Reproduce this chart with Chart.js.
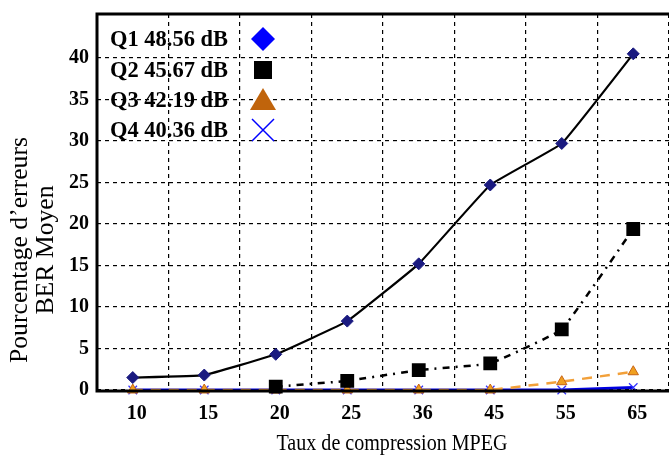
<!DOCTYPE html>
<html><head><meta charset="utf-8">
<style>html,body{margin:0;padding:0;background:#fff}#wrap{width:669px;height:460px;position:relative}</style>
<script src="https://cdn.jsdelivr.net/npm/chart.js@4"></script>
</head><body><div id="wrap"><canvas id="c" width="669" height="460"></canvas></div>
<script>
const categories = ['10','15','20','25','36','45','55','65'];
const q1 = [1.5, 1.8, 4.3, 8.3, 15.2, 24.7, 29.7, 40.5];
const q2 = [null, null, 0.4, 1.1, 2.4, 3.2, 7.3, 19.4];
const q3 = [0, 0, 0, 0, 0, 0, 1.0, 2.2];
const q4 = [0, 0, 0, 0, 0, 0, 0, 0.3];
const seriesNames = ['Q1 48.56 dB', 'Q2 45.67 dB', 'Q3 42.19 dB', 'Q4 40.36 dB'];
const yTicks = [0, 5, 10, 15, 20, 25, 30, 35, 40];
const xTitle = 'Taux de compression MPEG';
const yTitle = ['Pourcentage d\u2019erreurs', 'BER Moyen'];

const SERIF = '"Liberation Serif", "Times New Roman", serif';

function fitText(ctx, text, x, y, targetW, rot) {
  const w = ctx.measureText(text).width;
  ctx.save();
  ctx.translate(x, y);
  if (rot) ctx.rotate(rot);
  ctx.scale(targetW / w, 1);
  ctx.fillText(text, 0, 0);
  ctx.restore();
}

const overlay = {
  id: 'overlay',
  afterDraw(chart) {
    const ctx = chart.ctx;
    const a = chart.chartArea;
    ctx.save();
    // frame
    ctx.strokeStyle = '#000';
    ctx.lineWidth = 3;
    ctx.setLineDash([]);
    ctx.beginPath();
    ctx.moveTo(a.left, a.top);
    ctx.lineTo(a.right + 2, a.top);
    ctx.moveTo(a.left, a.top - 1.5);
    ctx.lineTo(a.left, a.bottom + 1.5);
    ctx.moveTo(a.left - 1.5, a.bottom + 1);
    ctx.lineTo(a.right + 2, a.bottom + 1);
    ctx.stroke();
    // axis titles
    ctx.fillStyle = '#000';
    ctx.font = '24px ' + SERIF;
    ctx.textAlign = 'center';
    ctx.textBaseline = 'middle';
    fitText(ctx, xTitle, 392, 444, 231, 0);
    ctx.font = '25px ' + SERIF;
    const w0 = ctx.measureText(yTitle[0]).width;
    const k = 226 / w0;
    fitText(ctx, yTitle[0], 20, 250, 226, -Math.PI / 2);
    fitText(ctx, yTitle[1], 46, 250, ctx.measureText(yTitle[1]).width * k, -Math.PI / 2);
    // legend
    const rows = [39, 70, 100, 130];
    ctx.font = 'bold 23px ' + SERIF;
    ctx.textAlign = 'left';
    const lw = ctx.measureText(seriesNames[0]).width;
    seriesNames.forEach((n, i) => {
      ctx.save();
      ctx.translate(110, rows[i] + 1);
      ctx.scale(118 / lw, 1);
      ctx.fillText(n, 0, 0);
      ctx.restore();
    });
    const mx = 263;
    // diamond
    ctx.fillStyle = '#0000ff';
    ctx.beginPath();
    ctx.moveTo(mx, rows[0] - 12); ctx.lineTo(mx + 12, rows[0]);
    ctx.lineTo(mx, rows[0] + 12); ctx.lineTo(mx - 12, rows[0]);
    ctx.closePath(); ctx.fill();
    // square
    ctx.fillStyle = '#000';
    ctx.fillRect(mx - 9, rows[1] - 9, 18, 18);
    // triangle
    ctx.fillStyle = '#c0640c';
    ctx.beginPath();
    ctx.moveTo(mx, rows[2] - 12); ctx.lineTo(mx + 13, rows[2] + 10);
    ctx.lineTo(mx - 13, rows[2] + 10); ctx.closePath(); ctx.fill();
    // cross
    ctx.strokeStyle = '#0000ff';
    ctx.lineWidth = 1.5;
    ctx.beginPath();
    ctx.moveTo(mx - 11, rows[3] - 11); ctx.lineTo(mx + 11, rows[3] + 11);
    ctx.moveTo(mx + 11, rows[3] - 11); ctx.lineTo(mx - 11, rows[3] + 11);
    ctx.stroke();
    ctx.restore();
  }
};

new Chart(document.getElementById('c'), {
  type: 'line',
  data: {
    labels: categories,
    datasets: [
      { label: seriesNames[0], data: q1, borderColor: '#000', borderWidth: 2.2,
        pointStyle: 'rectRot', pointRadius: 6, pointBackgroundColor: '#1a1a80', pointBorderColor: '#1a1a80',
        pointBorderWidth: 1, tension: 0.08, clip: false },
      { label: seriesNames[1], data: q2, borderColor: '#000', borderWidth: 2.5, borderDash: [7, 6, 2, 6],
        pointStyle: 'rect', pointRadius: 8, pointBackgroundColor: '#000', pointBorderColor: '#000',
        tension: 0.08, clip: false },
      { label: seriesNames[2], data: q3, borderColor: '#f2a03a', borderWidth: 2.5, borderDash: [10, 8],
        pointStyle: 'triangle', pointRadius: 6, pointBackgroundColor: '#f0a020', pointBorderColor: '#c86414',
        pointBorderWidth: 1, clip: false },
      { label: seriesNames[3], data: q4, borderColor: '#0000e0', borderWidth: 3,
        pointStyle: 'crossRot', pointRadius: 6, pointBackgroundColor: '#3030ff', pointBorderColor: '#3030ff',
        pointBorderWidth: 1.2, clip: false }
    ]
  },
  options: {
    responsive: false,
    animation: false,
    events: [],
    layout: { autoPadding: false, padding: { top: 14, right: 0, left: 0, bottom: 0 } },
    plugins: { legend: { display: false }, tooltip: { enabled: false } },
    scales: {
      x: {
        type: 'category',
        offset: true,
        grid: { offset: true, color: '#000', lineWidth: 1.2, drawTicks: false },
        border: { display: false, dash: [4, 4] },
        ticks: { color: '#000', padding: 12, labelOffset: 4, font: { family: SERIF, size: 20, weight: 'bold' }, maxRotation: 0 },
        afterFit(s) { s.height = 70; s.paddingLeft = 0; s.paddingRight = 0; }
      },
      y: {
        min: 0, max: 45.3,
        grid: { color: '#000', lineWidth: 1.2, drawTicks: false },
        border: { display: false, dash: [4, 4] },
        afterBuildTicks(s) { s.ticks = yTicks.map(v => ({ value: v })); },
        ticks: { color: '#000', padding: 8, font: { family: SERIF, size: 20, weight: 'bold' } },
        afterFit(s) { s.width = 97; s.paddingTop = 0; s.paddingBottom = 0; }
      }
    }
  },
  plugins: [overlay]
});
</script>
</body></html>
